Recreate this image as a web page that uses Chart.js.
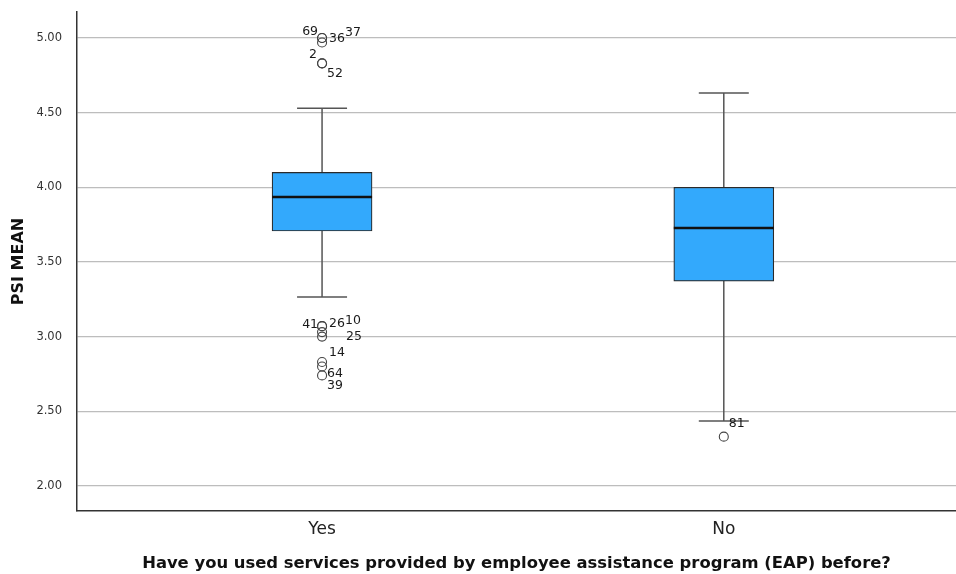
<!DOCTYPE html>
<html>
<head>
<meta charset="utf-8">
<script src="https://cdn.jsdelivr.net/npm/chart.js@4.4.1/dist/chart.umd.min.js"></script>
<style>
  html, body { margin: 0; padding: 0; background: #ffffff; }
  canvas { display: block; }
</style>
</head>
<body>
<canvas id="psiBox" width="956" height="574"></canvas>
<script>
// Groups on the horizontal axis
const groups = ['Yes', 'No'];

// Five-number summaries of PSI MEAN per group
const q1 = [3.707, 3.372];
const median = [3.935, 3.727];
const q3 = [4.10, 4.00];
const whiskerLow = [3.265, 2.435];
const whiskerHigh = [4.53, 4.632];

// Outlying cases (case number and value) per group
const yesOutlierCases = [69, 37, 36, 2, 52, 41, 10, 26, 25, 14, 64, 39];
const yesOutlierValues = [5.00, 5.00, 4.97, 4.83, 4.83, 3.07, 3.07, 3.03, 3.00, 2.83, 2.80, 2.74];
const noOutlierCases = [81];
const noOutlierValues = [2.33];

// Value axis ticks
const yTicks = [2.0, 2.5, 3.0, 3.5, 4.0, 4.5, 5.0];

const outlierCases = [yesOutlierCases, noOutlierCases];
const outlierValues = [yesOutlierValues, noOutlierValues];

// Case-number label placement around each circle (dx, dy in px; negative dx = text to the left)
const labelOffsets = [
  [[-4, -6], [23, -5], [7, -4], [-5, -9], [5, 10], [-4, -1], [23, -5], [7, -8], [24, 0], [7, -9], [5, 7], [5, 10]],
  [[5, -13]]
];

const boxFill = '#33a9fc';
const lineGray = '#555555';

// Remove the automatic edge padding so the plot area fills the canvas edges
const noEdgePadding = s => { s.paddingTop = 0; s.paddingBottom = 0; s.paddingLeft = 0; s.paddingRight = 0; };

const whiskerPlugin = {
  id: 'whiskers',
  beforeDatasetsDraw(chart) {
    const { ctx, scales: { x, y } } = chart;
    const bars = chart.getDatasetMeta(0).data;
    ctx.save();
    ctx.strokeStyle = lineGray;
    ctx.lineWidth = 1.5;
    groups.forEach((g, i) => {
      const cx = x.getPixelForValue(i + 1);
      const capHalf = bars[i].width / 4;
      const yHi = y.getPixelForValue(whiskerHigh[i]);
      const yLo = y.getPixelForValue(whiskerLow[i]);
      ctx.beginPath();
      ctx.moveTo(cx, y.getPixelForValue(q3[i]));
      ctx.lineTo(cx, yHi);
      ctx.moveTo(cx, y.getPixelForValue(q1[i]));
      ctx.lineTo(cx, yLo);
      ctx.moveTo(cx - capHalf, yHi);
      ctx.lineTo(cx + capHalf, yHi);
      ctx.moveTo(cx - capHalf, yLo);
      ctx.lineTo(cx + capHalf, yLo);
      ctx.stroke();
    });
    ctx.restore();
  },
  afterDatasetsDraw(chart) {
    const { ctx, scales: { x, y } } = chart;
    const bars = chart.getDatasetMeta(0).data;
    ctx.save();
    ctx.strokeStyle = '#111111';
    ctx.lineWidth = 2.5;
    groups.forEach((g, i) => {
      const cx = x.getPixelForValue(i + 1);
      const half = bars[i].width / 2;
      const ym = y.getPixelForValue(median[i]);
      ctx.beginPath();
      ctx.moveTo(cx - half, ym);
      ctx.lineTo(cx + half, ym);
      ctx.stroke();
    });
    // case numbers beside the outlier circles
    ctx.fillStyle = '#1a1a1a';
    ctx.font = '12.5px "DejaVu Sans"';
    ctx.textBaseline = 'middle';
    outlierCases.forEach((cases, gi) => {
      const cx = x.getPixelForValue(gi + 1);
      cases.forEach((c, k) => {
        const [dx, dy] = labelOffsets[gi][k];
        ctx.textAlign = dx < 0 ? 'right' : 'left';
        ctx.fillText(String(c), cx + dx, y.getPixelForValue(outlierValues[gi][k]) + dy);
      });
    });
    ctx.restore();
  }
};

const outlierPoints = [];
outlierValues.forEach((vals, gi) => vals.forEach(v => outlierPoints.push({ x: gi + 1, y: v })));

new Chart(document.getElementById('psiBox'), {
  type: 'bar',
  data: {
    datasets: [
      {
        type: 'bar',
        data: groups.map((g, i) => ({ x: i + 1, y: [q1[i], q3[i]] })),
        backgroundColor: boxFill,
        borderColor: '#2a2a2a',
        borderWidth: 1.2,
        borderSkipped: false,
        barThickness: 100,
        grouped: false
      },
      {
        type: 'scatter',
        data: outlierPoints,
        pointStyle: 'circle',
        pointRadius: 4.5,
        pointBackgroundColor: 'rgba(255,255,255,0)',
        pointBorderColor: '#444444',
        pointBorderWidth: 1.1
      }
    ]
  },
  options: {
    responsive: false,
    animation: false,
    devicePixelRatio: 1,
    layout: { autoPadding: false, padding: { top: 12, right: 0, left: 0, bottom: 0 } },
    plugins: { legend: { display: false }, tooltip: { enabled: false } },
    scales: {
      x: {
        type: 'linear',
        min: 0.39,
        max: 2.578,
        offset: false,
        grid: { display: false, drawTicks: false },
        border: { color: '#333333', width: 1.5 },
        afterBuildTicks: s => { s.ticks = groups.map((g, i) => ({ value: i + 1 })); },
        afterFit: s => { s.height = 63; noEdgePadding(s); },
        ticks: {
          autoSkip: false,
          maxRotation: 0,
          padding: 8,
          color: '#222222',
          font: { family: 'DejaVu Sans', size: 17 },
          callback: (v, idx) => groups[idx]
        },
        title: {
          display: true,
          text: 'Have you used services provided by employee assistance program (EAP) before?',
          color: '#111111',
          font: { family: 'DejaVu Sans', size: 16.4, weight: 'bold' },
          padding: { top: 0, bottom: 0 }
        }
      },
      y: {
        min: 1.832,
        max: 5.174,
        grid: { color: '#bdbdbd', lineWidth: 1.2, drawTicks: false },
        border: { color: '#333333', width: 1.5 },
        afterBuildTicks: s => { s.ticks = yTicks.map(v => ({ value: v })); },
        afterFit: s => { s.width = 77; noEdgePadding(s); },
        ticks: {
          padding: 15,
          color: '#333333',
          font: { family: 'DejaVu Sans', size: 11.5 },
          callback: v => Number(v).toFixed(2)
        },
        title: {
          display: true,
          text: 'PSI MEAN',
          color: '#111111',
          font: { family: 'DejaVu Sans', size: 16, weight: 'bold' },
          padding: { top: 9, bottom: 0 }
        }
      }
    }
  },
  plugins: [whiskerPlugin]
});
</script>
</body>
</html>
